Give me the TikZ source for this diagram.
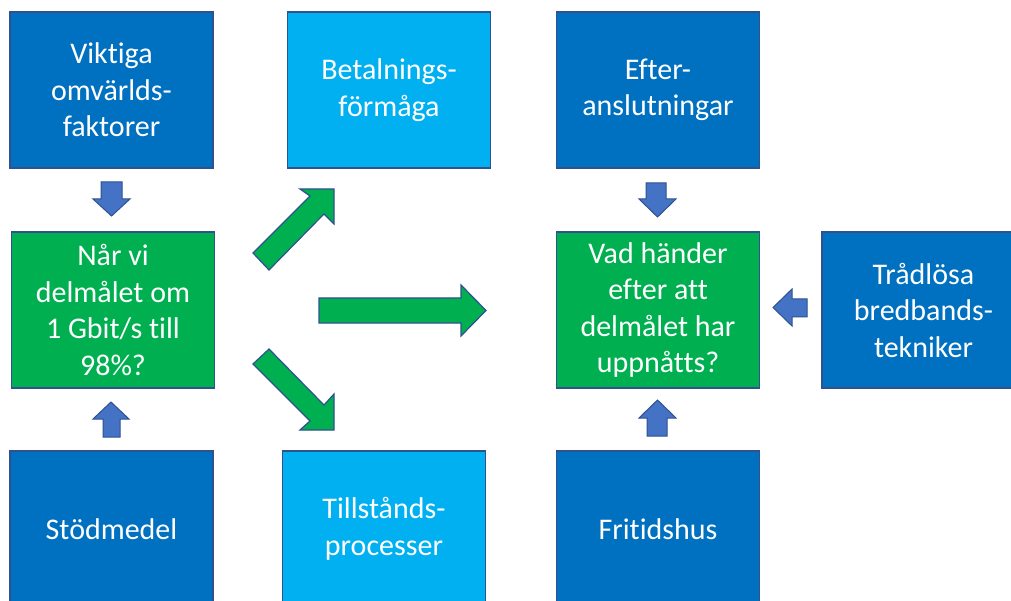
\documentclass[tikz,border=0pt]{standalone}
\usepackage{fontspec}
\setmainfont{Carlito}[Ligatures={NoCommon}]
\definecolor{dblue}{HTML}{0070C0}
\definecolor{lblue}{HTML}{00B0F0}
\definecolor{grn}{HTML}{00B050}
\definecolor{edge}{HTML}{2F528F}
\definecolor{arr}{HTML}{4472C4}
\tikzset{
  box/.style={draw=edge, line width=1.2pt, minimum width=203pt, minimum height=156pt,
    text=white, align=center, inner sep=0pt, font=\fontsize{30}{36.5}\selectfont},
  darkbox/.style={box, fill=dblue},
  lightbox/.style={box, fill=lblue},
  greenbox/.style={box, fill=grn},
  smallarrow/.style={draw=edge, fill=arr, line width=1pt, line join=miter},
  bigarrow/.style={draw=edge, fill=grn, line width=1.2pt, line join=miter}
}
\begin{document}
\begin{tikzpicture}[x=1pt, y=-1pt]
\useasboundingbox (0,0) rectangle (1011,601);
\clip (0,0) rectangle (1011,601);
\fill[white] (0,0) rectangle (1011,601);
% top row
\node[darkbox] (viktiga) at (111.5,90) {Viktiga\\omvärlds-\\faktorer};
\node[lightbox] (betal) at (389,90) {Betalnings-\\förmåga};
\node[darkbox] (efter) at (658,90) {Efter-\\anslutningar};
% middle row
\node[greenbox] (nar) at (113,310) {Når vi\\delmålet om\\1 Gbit/s till\\98\%?};
\node[greenbox] (vad) at (658,310) {Vad händer\\efter att\\delmålet har\\uppnåtts?};
\node[darkbox] (tradlosa) at (923.5,310) {Trådlösa\\bredbands-\\tekniker};
% bottom row
\node[darkbox] (stod) at (111.5,529) {Stödmedel};
\node[lightbox] (till) at (384,529) {Tillstånds-\\processer};
\node[darkbox] (frit) at (658,529) {Fritidshus};
% small block arrows
\draw[smallarrow] (101,182) -- (122,182) -- (122,199) -- (130,199) -- (111.5,216) -- (93,199) -- (101,199) -- cycle;
\draw[smallarrow] (103,437) -- (120,437) -- (120,419) -- (129,419) -- (111,402) -- (93,419) -- (103,419) -- cycle;
\draw[smallarrow] (646,183) -- (666,183) -- (666,199) -- (676,199) -- (657.5,217) -- (639,199) -- (646,199) -- cycle;
\draw[smallarrow] (647,436) -- (667,436) -- (667,418) -- (676,418) -- (657.5,400) -- (639,418) -- (647,418) -- cycle;
\draw[smallarrow] (807,299) -- (807,317) -- (792,317) -- (792,326) -- (773,307.5) -- (792,289) -- (792,299) -- cycle;
% big green arrows
\draw[bigarrow] (319,298) -- (461,298) -- (461,285) -- (486,310.5) -- (461,336) -- (461,323) -- (319,323) -- cycle;
\draw[bigarrow] (253,253) -- (310,196) -- (300,189) -- (334,189) -- (334,224) -- (324,214) -- (269,270) -- cycle;
\draw[bigarrow] (253,364) -- (310,421) -- (300,430) -- (334,430) -- (334,394) -- (324,405) -- (269,349) -- cycle;
\end{tikzpicture}
\end{document}
